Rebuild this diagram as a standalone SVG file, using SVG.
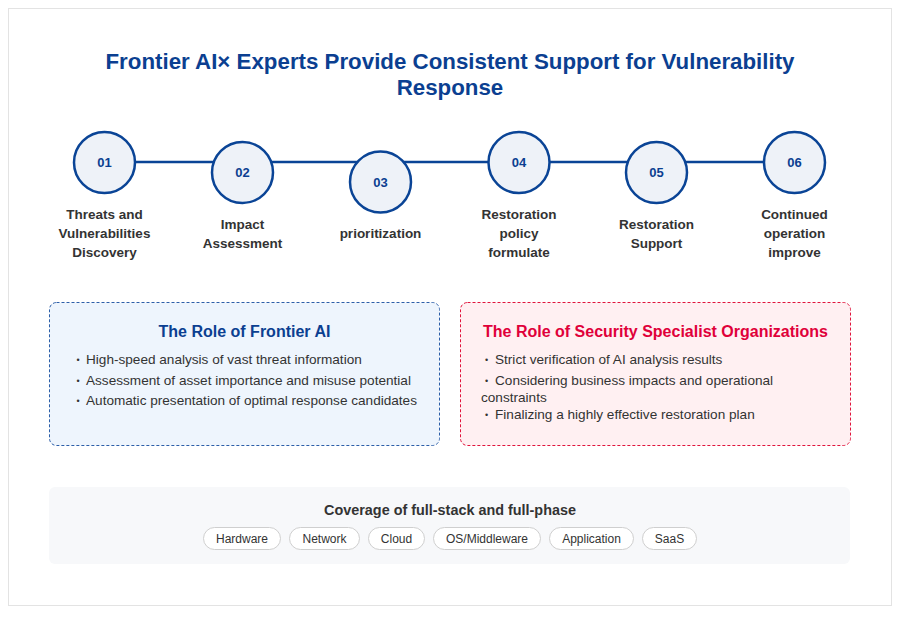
<svg xmlns="http://www.w3.org/2000/svg" width="900" height="622" viewBox="0 0 900 622">
<style>
text{font-family:"Liberation Sans",Arial,sans-serif}
.title{font-size:22.3px;font-weight:bold;fill:#0b3f91;text-anchor:middle}
.circ{fill:#eef2f8;stroke:#0a4496;stroke-width:2.5}
.num{font-size:13px;font-weight:bold;fill:#0b3f91;text-anchor:middle}
.lbl{font-size:13.5px;font-weight:bold;fill:#333;text-anchor:middle}
.bt{font-size:16px;font-weight:bold;text-anchor:middle}
.item{font-size:13.6px;fill:#333}
.dot{font-size:9px;fill:#333}
.pill{fill:#fff;stroke:#cfcfcf;stroke-width:1}
.pt{font-size:12px;fill:#333;text-anchor:middle}
</style>
<rect x="8.5" y="8.5" width="883" height="597" fill="#fff" stroke="#e3e3e3"/>
<text class="title" x="450" y="69">Frontier AI× Experts Provide Consistent Support for Vulnerability</text>
<text class="title" x="450" y="95">Response</text>
<g id="connectors">
<line x1="105" y1="162" x2="795" y2="162" stroke="#0a4496" stroke-width="2.5"/>
</g>
<g id="step01"><circle class="circ" cx="104.5" cy="162.5" r="30.5"/><text class="num" x="104.5" y="167">01</text>
<text class="lbl" x="104.5" y="219">Threats and</text><text class="lbl" x="104.5" y="238">Vulnerabilities</text><text class="lbl" x="104.5" y="257">Discovery</text></g>
<g id="step02"><circle class="circ" cx="242.5" cy="172.5" r="30.5"/><text class="num" x="242.5" y="177">02</text>
<text class="lbl" x="242.5" y="229">Impact</text><text class="lbl" x="242.5" y="248">Assessment</text></g>
<g id="step03"><circle class="circ" cx="380.5" cy="182" r="30.5"/><text class="num" x="380.5" y="186.5">03</text>
<text class="lbl" x="380.5" y="238">prioritization</text></g>
<g id="step04"><circle class="circ" cx="519" cy="162.5" r="30.5"/><text class="num" x="519" y="167">04</text>
<text class="lbl" x="519" y="219">Restoration</text><text class="lbl" x="519" y="238">policy</text><text class="lbl" x="519" y="257">formulate</text></g>
<g id="step05"><circle class="circ" cx="656.5" cy="172.5" r="30.5"/><text class="num" x="656.5" y="177">05</text>
<text class="lbl" x="656.5" y="229">Restoration</text><text class="lbl" x="656.5" y="248">Support</text></g>
<g id="step06"><circle class="circ" cx="794.5" cy="162.5" r="30.5"/><text class="num" x="794.5" y="167">06</text>
<text class="lbl" x="794.5" y="219">Continued</text><text class="lbl" x="794.5" y="238">operation</text><text class="lbl" x="794.5" y="257">improve</text></g>
<g id="role-ai">
<rect x="49.5" y="302.5" width="390" height="143" rx="7" fill="#eef5fd" stroke="#2c5ea8" stroke-width="1" stroke-dasharray="3,2"/>
<text class="bt" x="244.5" y="337" fill="#0b3f91">The Role of Frontier AI</text>
<text class="dot" x="76.5" y="363">•</text><text class="item" x="86" y="364">High-speed analysis of vast threat information</text>
<text class="dot" x="76.5" y="384">•</text><text class="item" x="86" y="385">Assessment of asset importance and misuse potential</text>
<text class="dot" x="76.5" y="404">•</text><text class="item" x="86" y="405">Automatic presentation of optimal response candidates</text>
</g>
<g id="role-specialist">
<rect x="460.5" y="302.5" width="390" height="143" rx="7" fill="#fff0f2" stroke="#e0143c" stroke-width="1" stroke-dasharray="3,2"/>
<text class="bt" x="655.5" y="337" fill="#e0003a">The Role of Security Specialist Organizations</text>
<text class="dot" x="485" y="363">•</text><text class="item" x="495" y="364">Strict verification of AI analysis results</text>
<text class="dot" x="485" y="384">•</text><text class="item" x="495" y="385">Considering business impacts and operational</text>
<text class="item" x="481" y="402">constraints</text>
<text class="dot" x="485" y="418">•</text><text class="item" x="495" y="419">Finalizing a highly effective restoration plan</text>
</g>
<g id="coverage">
<rect x="49" y="487" width="801" height="77" rx="6" fill="#f7f8fa"/>
<text x="450" y="515" font-size="14.4" font-weight="bold" fill="#333" text-anchor="middle">Coverage of full-stack and full-phase</text>
<rect class="pill" x="203.5" y="527.5" width="77" height="22" rx="11"/><text class="pt" x="242" y="542.5">Hardware</text>
<rect class="pill" x="289.5" y="527.5" width="70" height="22" rx="11"/><text class="pt" x="324.5" y="542.5">Network</text>
<rect class="pill" x="368.5" y="527.5" width="56" height="22" rx="11"/><text class="pt" x="396.5" y="542.5">Cloud</text>
<rect class="pill" x="433.5" y="527.5" width="107" height="22" rx="11"/><text class="pt" x="487" y="542.5">OS/Middleware</text>
<rect class="pill" x="549.5" y="527.5" width="84" height="22" rx="11"/><text class="pt" x="591.5" y="542.5">Application</text>
<rect class="pill" x="642.5" y="527.5" width="54" height="22" rx="11"/><text class="pt" x="669.5" y="542.5">SaaS</text>
</g>
</svg>
